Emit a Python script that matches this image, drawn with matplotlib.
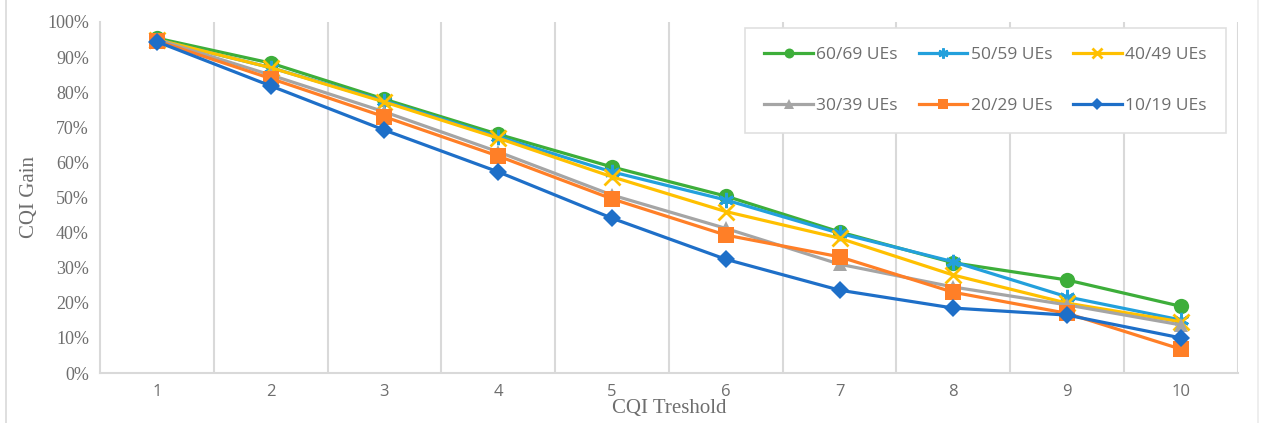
import matplotlib.pyplot as plt
import numpy as np
from matplotlib.ticker import PercentFormatter

# CQI threshold categories
thresholds = [1, 2, 3, 4, 5, 6, 7, 8, 9, 10]

# CQI gain (%) per UE group
ue_60_69 = [95.4, 88.3, 78.0, 68.0, 58.7, 50.4, 40.2, 31.4, 26.5, 19.0]
ue_50_59 = [95.0, 87.0, 77.5, 67.3, 57.3, 49.3, 39.8, 31.7, 21.7, 15.1]
ue_40_49 = [95.0, 87.0, 77.2, 66.9, 55.9, 46.0, 38.4, 27.9, 19.9, 14.6]
ue_30_39 = [95.0, 84.9, 74.4, 63.0, 50.7, 41.2, 31.0, 24.5, 19.4, 13.7]
ue_20_29 = [94.6, 83.9, 73.0, 61.8, 49.6, 39.3, 33.1, 23.0, 17.0, 6.8]
ue_10_19 = [94.4, 81.8, 69.2, 57.3, 44.1, 32.4, 23.6, 18.5, 16.5, 10.0]

labels = ["60/69 UEs", "50/59 UEs", "40/49 UEs", "30/39 UEs", "20/29 UEs", "10/19 UEs"]
series = [ue_60_69, ue_50_59, ue_40_49, ue_30_39, ue_20_29, ue_10_19]
colors = ["#3DAE3A", "#23A0DC", "#FFC000", "#A5A5A5", "#FF7F27", "#1E6FC8"]
markers = ["o", (6, 2, 0), "x", "^", "s", "D"]
msizes = [11, 11, 11, 10, 11, 9]

fig = plt.figure(figsize=(12.63, 4.23), dpi=100)
ax = fig.add_axes([0.0792, 0.1182, 0.9008, 0.8298])

handles = []
for vals, lab, c, m, ms in zip(series, labels, colors, markers, msizes):
    h, = ax.plot(thresholds, vals, color=c, marker=m, markersize=ms, lw=2.3,
                 markeredgewidth=2 if m in ("x", (6, 2, 0)) else 0,
                 markeredgecolor=c, label=lab)
    handles.append(h)

ax.set_xlim(0.5, 10.5)
ax.set_ylim(0, 100)
ax.set_yticks(np.arange(0, 101, 10))
ax.yaxis.set_major_formatter(PercentFormatter(decimals=0))
ax.set_xticks(thresholds)

# vertical grid lines between categories
for xb in np.arange(1.5, 11, 1):
    ax.axvline(xb, color="#D9D9D9", lw=1.5, zorder=0)

for s in ["top", "right"]:
    ax.spines[s].set_visible(False)
for s in ["left", "bottom"]:
    ax.spines[s].set_color("#D9D9D9")
    ax.spines[s].set_linewidth(1.5)

ax.tick_params(axis="y", length=0, pad=8)
ax.tick_params(axis="x", length=0, pad=8)
for t in ax.get_yticklabels():
    t.set_fontfamily("Liberation Serif")
    t.set_fontsize(13)
    t.set_color("#6E6E6E")
for t in ax.get_xticklabels():
    t.set_fontfamily("Open Sans")
    t.set_fontsize(12)
    t.set_color("#6E6E6E")

ax.set_ylabel("CQI Gain", family="Liberation Serif", fontsize=15, color="#6E6E6E", labelpad=6)
ax.set_xlabel("CQI Treshold", family="Liberation Serif", fontsize=15, color="#6E6E6E", labelpad=-1)

order = [0, 3, 1, 4, 2, 5]
leg = ax.legend([handles[i] for i in order], [labels[i] for i in order], ncol=3,
                loc="upper right", bbox_to_anchor=(0.9895, 0.983), frameon=True,
                fancybox=False, edgecolor="#E0E0E0", framealpha=1,
                prop={"family": "Open Sans", "size": 12.5}, markerscale=0.65,
                labelcolor="#6E6E6E", handlelength=2.8, handletextpad=0.2,
                columnspacing=1.2, labelspacing=2.0, borderpad=1.1,
                borderaxespad=0.0)
leg.get_frame().set_linewidth(1.2)

# outer chart border
fig.add_artist(plt.Line2D([0.005, 0.005], [0.0, 1.0], color="#D9D9D9", lw=1.2))
fig.add_artist(plt.Line2D([0.996, 0.996], [0.0, 1.0], color="#EBEBEB", lw=1.2))

fig.savefig("out.png", dpi=100)
